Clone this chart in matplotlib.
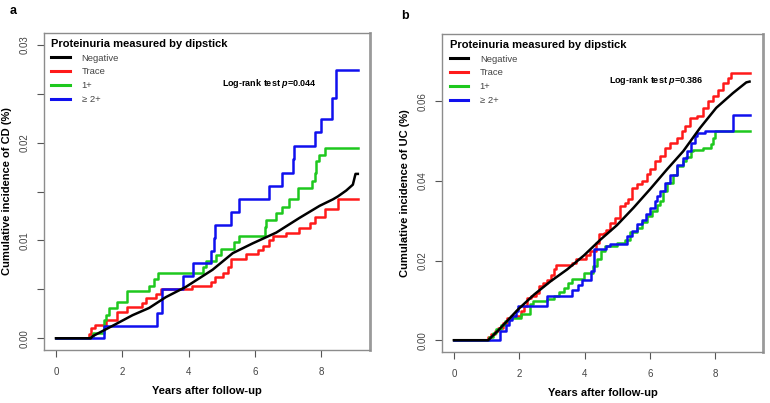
import matplotlib
matplotlib.use('Agg')
import matplotlib.pyplot as plt
from matplotlib.lines import Line2D

plt.rcParams['font.family'] = ['Liberation Sans', 'DejaVu Sans']
plt.rcParams['mathtext.fontset'] = 'custom'
plt.rcParams['mathtext.bfit'] = 'Liberation Sans:italic:bold'
plt.rcParams['mathtext.it'] = 'Liberation Sans:italic'

# =========================
# DATA
# =========================
groups = ["Negative", "Trace", "1+", "\u2265 2+"]
colors = ["black", "#ff1a1a", "#1ec81e", "#1010ee"]

# Panel a: CD
cd_neg_x = [0, 1.05, 1.1, 1.8, 2.31, 2.81, 3.31, 3.92, 4.72, 5.33, 5.93, 6.64, 7.34, 7.95, 8.35, 8.5, 8.75, 8.95, 9.03, 9.1]
cd_neg_y = [0, 0, 0.0002, 0.00144, 0.00236, 0.0031, 0.0042, 0.00526, 0.0070, 0.0087, 0.0097, 0.0108, 0.0123, 0.01354, 0.0142, 0.0145, 0.0151, 0.0157, 0.0168, 0.0168]

cd_tr_x = [0, 1.0, 1.05, 1.18, 1.50, 1.85, 2.15, 2.59, 2.71, 3.01, 3.18, 4.10, 4.68, 4.80, 5.05, 5.18, 5.28,
           5.73, 6.08, 6.23, 6.41, 6.55, 6.94, 7.34, 7.66, 7.80, 8.10, 8.50, 9.1]
cd_tr_y = [0, 0.00048, 0.0010, 0.00133, 0.00185, 0.0027, 0.0032, 0.00362, 0.00407, 0.00451, 0.0050, 0.00537,
           0.00578, 0.00622, 0.0067, 0.0073, 0.0081, 0.0086, 0.0090, 0.0094, 0.0100, 0.01046, 0.0108, 0.0113,
           0.0118, 0.0124, 0.0132, 0.0142, 0.0142]

cd_p1_x = [0, 1.02, 1.12, 1.45, 1.5, 1.6, 1.85, 2.15, 2.81, 2.96, 3.09, 4.42, 4.52, 4.82, 4.97, 5.38, 5.51,
           6.30, 6.33, 6.62, 6.82, 7.04, 7.31, 7.71, 7.80, 7.85, 7.92, 8.10, 9.1]
cd_p1_y = [0, 0.00013, 0.00054, 0.00185, 0.00236, 0.00305, 0.00366, 0.00482, 0.00533, 0.00602, 0.0067,
           0.00731, 0.0079, 0.0085, 0.0091, 0.0098, 0.01046, 0.0114, 0.0121, 0.0128, 0.0134, 0.0142, 0.0154,
           0.0161, 0.0169, 0.0181, 0.0187, 0.0194, 0.0194]

cd_p2_x = [0, 1.45, 3.05, 3.21, 3.82, 4.12, 4.67, 4.75, 4.80, 5.28, 5.53, 6.43, 6.82, 7.14, 7.19, 7.81,
           8.0, 8.32, 8.45, 9.1]
cd_p2_y = [0, 0.00123, 0.00256, 0.0050, 0.00636, 0.00766, 0.00895, 0.0102, 0.0116, 0.0129, 0.01426,
           0.0156, 0.0169, 0.0183, 0.0197, 0.0211, 0.0224, 0.0246, 0.0274, 0.0274]

# Panel b: UC
uc_neg_x = [0, 1.05, 1.35, 1.96, 2.46, 2.96, 3.47, 3.98, 4.49, 4.99, 5.50, 6.01, 6.52, 7.02, 7.53,
            8.03, 8.54, 8.95, 9.05]
uc_neg_y = [0, 0, 0.0024, 0.0077, 0.0115, 0.0148, 0.0178, 0.0213, 0.0253, 0.0289, 0.0333, 0.0380,
            0.0429, 0.0475, 0.0533, 0.0584, 0.0621, 0.0648, 0.0650]

uc_tr_x = [0, 1.05, 1.15, 1.25, 1.35, 1.50, 1.63, 1.75, 2.04, 2.15, 2.23, 2.35, 2.51, 2.61, 2.74, 2.86,
           2.96, 3.06, 3.14, 3.63, 3.73, 4.03, 4.18, 4.34, 4.44, 4.59, 4.67, 4.79, 4.94, 5.07, 5.25, 5.33,
           5.45, 5.60, 5.76, 5.91, 6.01, 6.16, 6.31, 6.46, 6.62, 6.82, 6.97, 7.07, 7.22, 7.43, 7.63, 7.78,
           7.93, 8.08, 8.23, 8.38, 8.48, 9.05]
uc_tr_y = [0, 0.0008, 0.0015, 0.0023, 0.0031, 0.0043, 0.0056, 0.0062, 0.0073, 0.0085, 0.0106, 0.0112,
           0.0119, 0.0136, 0.0144, 0.0152, 0.0165, 0.0178, 0.0188, 0.0194, 0.0203, 0.0215, 0.0224, 0.0245,
           0.0266, 0.0270, 0.0278, 0.0295, 0.0307, 0.0337, 0.0345, 0.0354, 0.0383, 0.0393, 0.0400, 0.0418,
           0.0431, 0.0450, 0.0462, 0.0483, 0.0496, 0.0508, 0.0525, 0.0538, 0.0559, 0.0563, 0.0584, 0.0601,
           0.0615, 0.0630, 0.0647, 0.0659, 0.0672, 0.0672]

uc_p1_x = [0, 0.99, 1.06, 1.20, 1.30, 1.45, 1.56, 1.70, 2.06, 2.33, 2.41, 2.86, 3.06, 3.21, 3.36, 3.50,
           3.62, 3.98, 4.26, 4.39, 4.51, 4.64, 4.99, 5.25, 5.40, 5.60, 5.76, 5.91, 6.06, 6.21, 6.31, 6.40,
           6.52, 6.72, 6.82, 7.02, 7.12, 7.25, 7.33, 7.63, 7.88, 7.93, 8.00, 9.05]
uc_p1_y = [0, 0, 0.0008, 0.0018, 0.0029, 0.0039, 0.0049, 0.0056, 0.0067, 0.0090, 0.0098, 0.0104, 0.0111,
           0.0121, 0.0131, 0.0144, 0.0155, 0.0169, 0.0186, 0.0203, 0.0224, 0.0238, 0.0245, 0.0253, 0.0271,
           0.0282, 0.0297, 0.0312, 0.0326, 0.0341, 0.0349, 0.0374, 0.0395, 0.0416, 0.0437, 0.0450, 0.0461,
           0.0475, 0.0479, 0.0483, 0.0492, 0.0508, 0.0527, 0.0527]

uc_p2_x = [0, 1.40, 1.60, 1.70, 1.77, 1.91, 1.96, 2.84, 3.63, 3.81, 3.91, 4.20, 4.28, 4.67, 4.79, 5.30,
           5.45, 5.60, 5.76, 5.88, 6.01, 6.16, 6.21, 6.31, 6.46, 6.62, 6.82, 7.02, 7.14, 7.27, 7.37, 7.44,
           7.68, 8.54, 9.05]
uc_p2_y = [0, 0.0024, 0.0038, 0.0052, 0.0060, 0.0073, 0.0087, 0.0112, 0.0127, 0.0138, 0.0151, 0.0173,
           0.0228, 0.0236, 0.0242, 0.0261, 0.0274, 0.0291, 0.0303, 0.0317, 0.0332, 0.0349, 0.0362, 0.0376,
           0.0395, 0.0416, 0.0440, 0.0458, 0.0475, 0.0496, 0.0513, 0.0521, 0.0525, 0.0565, 0.0565]

x_ticks = [0, 2, 4, 6, 8]


# =========================
# DRAW ONE PANEL
# =========================
def draw_panel(ax, curves, ylim, yticks, yminor, ylabel, pval):
    neg, tr, p1, p2 = curves
    ax.plot(neg[0], neg[1], color=colors[0], lw=1.8, zorder=4)
    for (xs, ys), c in zip([tr, p1, p2], colors[1:]):
        ax.plot(xs, ys, color=c, lw=1.8, drawstyle="steps-post", zorder=3)

    span = 9.1
    ax.set_xlim(-0.04 * span, span * 1.04)
    yr = ylim[1] - ylim[0]
    ax.set_ylim(ylim[0] - 0.04 * yr, ylim[1] + 0.04 * yr)

    ax.set_xticks(x_ticks)
    ax.set_xticklabels([str(t) for t in x_ticks])
    ax.set_yticks(yticks)
    ax.set_yticklabels([f"{t:.2f}" for t in yticks], rotation=90, va="center")
    if yminor:
        ax.set_yticks(yminor, minor=True)
    ax.tick_params(axis="both", which="both", length=5, width=0.8, color="#555555",
                   labelsize=7, labelcolor="#444444")
    ax.tick_params(axis="x", pad=7)
    ax.tick_params(axis="y", pad=5)

    for side, sp in ax.spines.items():
        sp.set_color("#8c8c8c")
        sp.set_linewidth(1.0)
    ax.spines["right"].set_linewidth(2.0)
    ax.spines["right"].set_color("#9a9a9a")

    ax.set_xlabel("Years after follow-up", fontsize=8, fontweight="bold", labelpad=7)
    ax.set_ylabel(ylabel, fontsize=8, fontweight="bold", labelpad=6)

    handles = [Line2D([0], [0], color=c, lw=2.2) for c in colors]
    leg = ax.legend(handles, groups, loc="upper left", bbox_to_anchor=(0.0, 1.005),
                    frameon=False, fontsize=6.8, title="Proteinuria measured by dipstick",
                    title_fontproperties={"weight": "bold", "size": 8},
                    alignment="left", handlelength=2.0, handletextpad=1.2,
                    labelspacing=0.5, borderaxespad=0.4)
    for t in leg.get_texts():
        t.set_color("#444444")

    ax.text(pval[0], pval[1], r"Log-rank test $\mathbfit{p}$=" + pval[2], transform=ax.transAxes,
            fontsize=6.5, fontweight="bold", va="center", ha="left")


fig = plt.figure(figsize=(7.7, 4.03), dpi=100)
ax_a = fig.add_axes([0.057, 0.1315, 0.4234, 0.7866])
ax_b = fig.add_axes([0.574, 0.1266, 0.417, 0.789])

draw_panel(ax_a,
           [(cd_neg_x, cd_neg_y), (cd_tr_x, cd_tr_y), (cd_p1_x, cd_p1_y), (cd_p2_x, cd_p2_y)],
           (0, 0.03), [0, 0.01, 0.02, 0.03], [0.005, 0.015, 0.025],
           "Cumulative incidence of CD (%)", (0.545, 0.842, "0.044"))
draw_panel(ax_b,
           [(uc_neg_x, uc_neg_y), (uc_tr_x, uc_tr_y), (uc_p1_x, uc_p1_y), (uc_p2_x, uc_p2_y)],
           (0, 0.074), [0, 0.02, 0.04, 0.06], None,
           "Cumulative incidence of UC (%)", (0.52, 0.855, "0.386"))

fig.text(10 / 770, 1 - 11 / 403, "a", fontsize=9, fontweight="bold", va="center")
fig.text(401 / 770, 1 - 16 / 403, "b", fontsize=9, fontweight="bold", va="center")

fig.savefig("out.png", dpi=100)
